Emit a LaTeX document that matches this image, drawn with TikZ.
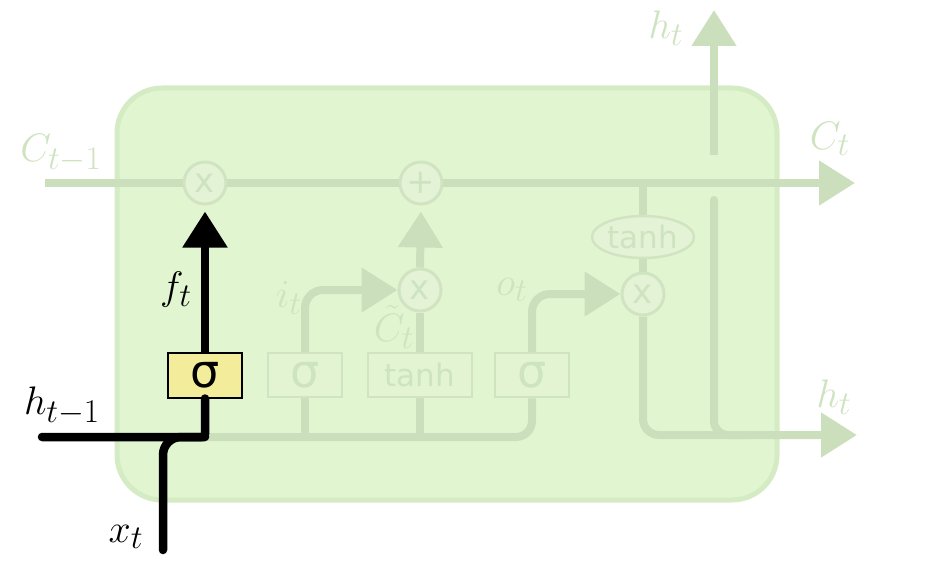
\RequirePackage{fix-cm}
\documentclass[tikz,border=0pt]{standalone}
\usepackage{fontspec}
\newfontfamily\dejavu{DejaVu Sans}
\usetikzlibrary{arrows.meta,shapes.geometric}
\definecolor{cellfill}{RGB}{224,245,208}
\definecolor{cellborder}{RGB}{212,235,196}
\definecolor{fadeline}{RGB}{204,223,188}
\definecolor{fadetext}{RGB}{206,227,192}
\definecolor{opfill}{RGB}{228,243,214}
\definecolor{opborder}{RGB}{208,228,194}
\definecolor{gatefill}{RGB}{226,244,210}
\definecolor{sigyellow}{RGB}{243,236,154}
\newcommand{\mylab}[1]{\scalebox{1.6}{$#1$}}
\tikzset{
  cell/.style={draw=cellborder, fill=cellfill, line width=5pt, rounded corners=45pt,
    minimum width=660pt, minimum height=412pt, inner sep=0pt},
  fade/.style={draw=fadeline, line width=8pt},
  fadearrow/.style={fade, -{Triangle[length=36pt,width=43pt]}},
  blackline/.style={draw=black, line width=8.5pt, line cap=round},
  op/.style={circle, draw=opborder, fill=opfill, line width=3pt, minimum size=42pt,
    inner sep=0pt, text=fadetext, font=\dejavu\fontsize{34}{36}\selectfont},
  gatebox/.style={rectangle, draw=opborder, fill=gatefill, line width=2.5pt,
    minimum height=44pt, inner sep=0pt, text=fadetext},
  sigbox/.style={gatebox, minimum width=74pt, font=\dejavu\fontsize{46}{48}\selectfont},
  tanhbox/.style={gatebox, minimum width=104pt, font=\dejavu\fontsize{31}{34}\selectfont},
  tanhell/.style={ellipse, draw=opborder, fill=opfill, line width=2.5pt, minimum width=102pt,
    minimum height=42pt, inner sep=0pt, text=fadetext, font=\dejavu\fontsize{31}{34}\selectfont},
  lab/.style={font=\fontsize{24.88}{30}\selectfont, inner sep=0pt},
  fadelab/.style={lab, text=fadetext},
}
\begin{document}
\begin{tikzpicture}[x=1pt,y=-1pt]
\useasboundingbox (0,0) rectangle (942,564);
% cell
\node[cell] (cell) at (447,294) {};
% coordinates
\coordinate (cstart) at (45,183);
\coordinate (cend) at (855,183);
\coordinate (cbranch) at (643,183);
\coordinate (htopstart) at (714,155);
\coordinate (htopend) at (714,10);
\coordinate (hgapstart) at (714,200);
\coordinate (hjoin) at (714,435);
\coordinate (hjoinright) at (745,435);
\coordinate (hcorner) at (643,435);
\coordinate (hend) at (857,435);
\coordinate (fjoin) at (205,437);
\coordinate (ocorner) at (532,437);
\coordinate (istem) at (305,437);
\coordinate (tstem) at (420,437);
\coordinate (hprev) at (42,437);
\coordinate (xt) at (163,550);
% faded lines
\draw[fadearrow] (cstart) -- (cend);
\draw[fadearrow] (htopstart) -- (htopend);
\draw[fade, line cap=round, rounded corners=14pt] (hgapstart) -- (hjoin) -- (hjoinright);
% nodes
\node[op] (mulF) at (205,183) {x};
\node[op] (plus) at (421,183) {+};
\node[op] (mulI) at (420,290) {x};
\node[op] (mulO) at (643,294) {x};
\node[tanhell] (tanhE) at (643,237) {tanh};
\node[sigbox] (isig) at (305,375) {σ};
\node[tanhbox] (tbox) at (420,375) {tanh};
\node[sigbox] (osig) at (532,375) {σ};
% faded connectors
\draw[fade, rounded corners=16pt] (fjoin) -- (ocorner) -- (osig.south);
\draw[fade] (istem) -- (isig.south);
\draw[fade] (tstem) -- (tbox.south);
\draw[fadearrow, rounded corners=18pt] (isig.north) |- (mulI.west);
\draw[fadearrow, rounded corners=18pt] (osig.north) |- (mulO.west);
\draw[fade] (tbox.north) -- (mulI.south);
\draw[fadearrow, shorten >=6pt] (mulI.north) -- (plus.south);
\draw[fade] (cbranch) -- (tanhE.north);
\draw[fade] (tanhE.south) -- (mulO.north);
\draw[fadearrow, rounded corners=16pt] (mulO.south) -- (hcorner) -- (hend);
% forget gate
\node[rectangle, draw=black, fill=sigyellow, line width=2pt, minimum width=74pt,
  minimum height=45pt, inner sep=0pt, font=\dejavu\fontsize{46}{48}\selectfont] (fsig) at (205,375) {σ};
\draw[blackline, line cap=butt, -{Triangle[length=36pt,width=43pt]}, shorten >=6pt] (fsig.north) -- (mulF.south);
\draw[blackline, line join=round, rounded corners=3pt] (hprev) -- (fjoin) -- (fsig.south);
\draw[blackline, rounded corners=18pt] (xt) |- (fjoin);
% labels
\node[fadelab] (lc) at (61,153) {\mylab{C_{t-1}}};
\node[lab] (lf) at (176,290) {\mylab{f_t}};
\node[fadelab] (li) at (289,298) {\mylab{i_t}};
\node[fadelab] (lct) at (394,327) {\mylab{\tilde{C}_t}};
\node[fadelab] (lo) at (512,290) {\mylab{o_t}};
\node[fadelab] (lht) at (666,28) {\mylab{h_t}};
\node[fadelab] (lC) at (830,139) {\mylab{C_t}};
\node[fadelab] (lhr) at (834,397) {\mylab{h_t}};
\node[lab] (lhp) at (62,406) {\mylab{h_{t-1}}};
\node[lab] (lx) at (126,537) {\mylab{x_t}};
\end{tikzpicture}
\end{document}
